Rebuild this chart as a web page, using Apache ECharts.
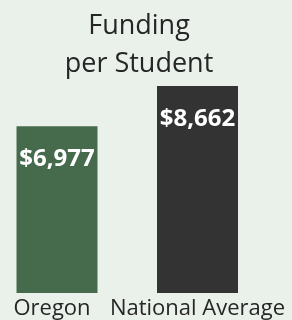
<!DOCTYPE html>
<html><head><meta charset="utf-8">
<script src="https://cdn.jsdelivr.net/npm/echarts@6/dist/echarts.min.js"></script>
<style>html,body{margin:0;padding:0;background:#eaf1ea;}#c{width:292px;height:320px;}</style>
</head><body><div id="c"></div>
<script>
const categories = ["Oregon", "National Average"];
const values = [6977, 8662];
const labels = ["$6,977", "$8,662"];
const barColors = ["#466b4c", "#333333"];
const titleLines = ["Funding", "per Student"];

const chart = echarts.init(document.getElementById('c'), null, {renderer: 'canvas'});
chart.setOption({
  backgroundColor: '#eaf1ea',
  animation: false,
  title: {
    text: titleLines.join('\n'),
    left: 134, top: 2, textAlign: 'center',
    textStyle: {fontFamily: 'Open Sans', fontSize: 27, fontWeight: 'normal', color: '#262626', lineHeight: 38}
  },
  grid: {left: 57, width: 140.5, top: 54, bottom: 25, containLabel: false},
  xAxis: {
    type: 'category', boundaryGap: false,
    data: categories.map((c, i) => i === 0 ? {value: c, textStyle: {padding: [0, 10, 0, 0]}} : c),
    axisLine: {show: false}, axisTick: {show: false},
    axisLabel: {fontFamily: 'Open Sans', fontSize: 22, color: '#262626', margin: 5, interval: 0}
  },
  yAxis: {type: 'value', min: 0, max: 10000, show: false, splitLine: {show: false}},
  series: [{
    type: 'bar', barWidth: 81,
    data: values.map((v, i) => ({value: v, itemStyle: {color: barColors[i]}})),
    label: {
      show: true, position: 'insideTop', distance: 21,
      formatter: p => labels[p.dataIndex],
      fontFamily: 'Open Sans', fontWeight: 'bold', fontSize: 24, color: '#ffffff'
    }
  }]
});
</script></body></html>
